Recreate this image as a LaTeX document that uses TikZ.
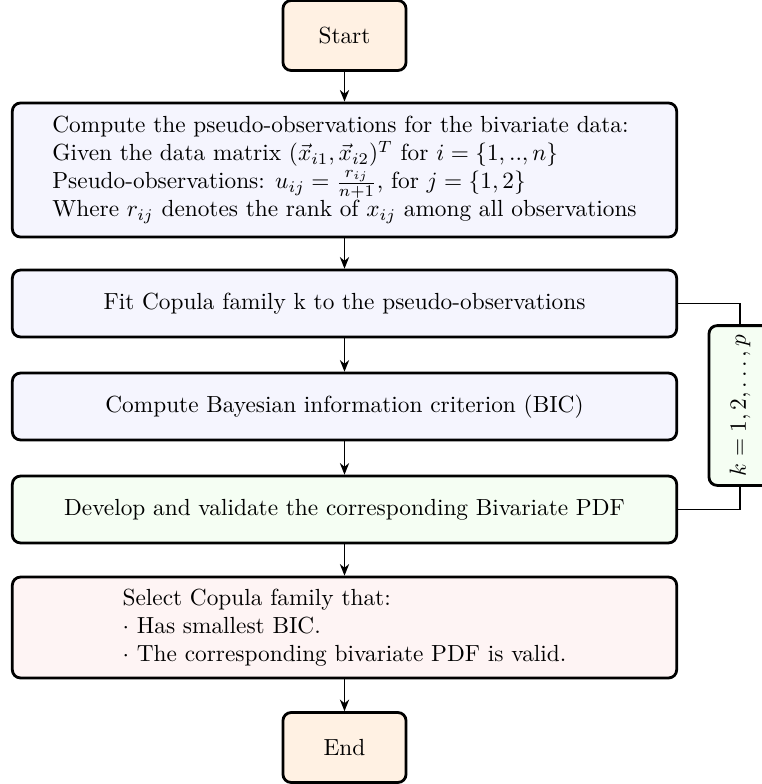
\documentclass[tikz,border=0pt]{standalone}
\usetikzlibrary{arrows.meta}
\definecolor{termfill}{HTML}{FFF1E3}
\definecolor{stepfill}{HTML}{F5F5FE}
\definecolor{devfill}{HTML}{F5FEF3}
\definecolor{selfill}{HTML}{FEF4F4}
\begin{document}
\begin{tikzpicture}[x=0.429pt,y=-0.429pt,
  box/.style={draw, line width=1.2pt, rounded corners=3.5pt, minimum width=285pt,
              align=center, inner sep=4pt},
  procbox/.style={box, fill=stepfill, minimum height=28.7pt},
  termbox/.style={box, fill=termfill, minimum width=52.8pt, minimum height=30pt},
  flow/.style={-{Stealth[length=5pt,width=4pt]}, line width=0.6pt},
  loopline/.style={line width=0.6pt}]
\useasboundingbox (0,0) rectangle (761,784);

\node[termbox] (start) at (344.5,35.5) {Start};

\node[box, fill=stepfill, minimum height=57.5pt, align=left] (pseudo) at (344.5,170)
  {Compute the pseudo-observations for the bivariate data:\\
   Given the data matrix $(\vec{x}_{i1},\vec{x}_{i2})^T$ for $i=\{1,..,n\}$\\
   Pseudo-observations: $u_{ij}=\frac{r_{ij}}{n+1}$, for $j=\{1,2\}$\\
   Where $r_{ij}$ denotes the rank of $x_{ij}$ among all observations};

\node[procbox] (fit) at (344.5,303.5) {Fit Copula family k to the pseudo-observations};
\node[procbox] (bic) at (344.5,406.5) {Compute Bayesian information criterion (BIC)};
\node[procbox, fill=devfill] (pdf) at (344.5,509.5) {Develop and validate the corresponding Bivariate PDF};

\node[box, fill=selfill, minimum height=43.3pt, align=left] (select) at (344.5,627.5)
  {Select Copula family that:\\
   $\cdot$ Has smallest BIC.\\
   $\cdot$ The corresponding bivariate PDF is valid.};

\node[termbox] (end) at (344.5,747.5) {End};

% loop counter over the candidate families
\node[box, fill=devfill, rotate=90, minimum width=62.2pt, minimum height=26.6pt]
  (kbox) at (740,405.5) {$k=1,2,\ldots,p$};

\draw[flow] (start) -- (pseudo);
\draw[flow] (pseudo) -- (fit);
\draw[flow] (fit) -- (bic);
\draw[flow] (bic) -- (pdf);
\draw[flow] (pdf) -- (select);
\draw[flow] (select) -- (end);

\draw[loopline] (fit.east) -| (kbox.east);
\draw[loopline] (pdf.east) -| (kbox.west);
\end{tikzpicture}
\end{document}
